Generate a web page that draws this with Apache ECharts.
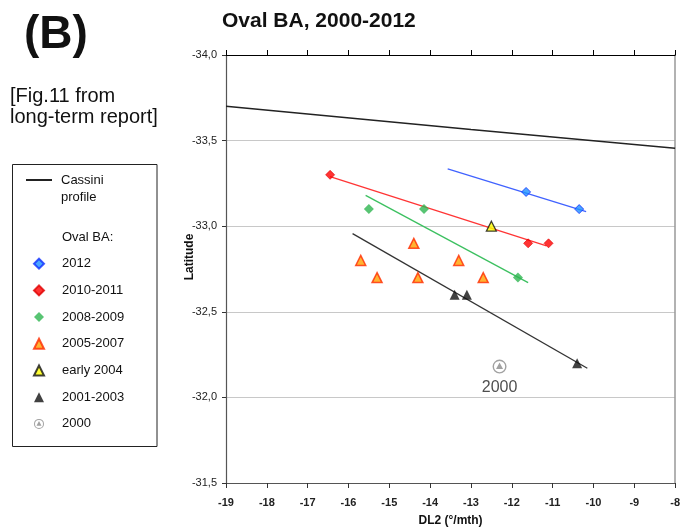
<!DOCTYPE html>
<html>
<head>
<meta charset="utf-8">
<script src="https://cdn.jsdelivr.net/npm/echarts@6/dist/echarts.min.js"></script>
<style>html,body{margin:0;padding:0;background:#fff}#c{width:683px;height:532px}</style>
</head>
<body>
<div id="c"></div>
<script>
// ---- data ----
const xTicks = [-19,-18,-17,-16,-15,-14,-13,-12,-11,-10,-9,-8];
const yTicks = [-34.0,-33.5,-33.0,-32.5,-32.0,-31.5];
const cassini = [[-19,-33.70],[-13,-33.565],[-8,-33.455]];
const p2012 = [[-11.65,-33.2],[-10.35,-33.1]];
const p2010 = [[-16.45,-33.3],[-11.6,-32.9],[-11.1,-32.9]];
const p2008 = [[-15.5,-33.1],[-14.15,-33.1],[-11.85,-32.7]];
const p2005 = [[-14.4,-32.9],[-15.7,-32.8],[-13.3,-32.8],[-15.3,-32.7],[-14.3,-32.7],[-12.7,-32.7]];
const p2004 = [[-12.5,-33.0]];
const p2001 = [[-13.4,-32.6],[-13.1,-32.6],[-10.4,-32.2]];
const p2000 = [[-12.3,-32.18]];
const fit2012 = [[-13.57,-33.335],[-10.18,-33.085]];
const fit2010 = [[-16.45,-33.29],[-11.15,-32.885]];
const fit2008 = [[-15.58,-33.18],[-11.6,-32.67]];
const fit2001 = [[-15.9,-32.957],[-10.15,-32.17]];

const FONT = '"Liberation Sans", Arial, sans-serif';
const ring = 'path://M0,-10A10,10,0,1,1,0,10A10,10,0,1,1,0,-10ZM0,-8A8,8,0,1,0,0,8A8,8,0,1,0,0,-8ZM0,-6L5,3.5L-5,3.5Z';

const chart = echarts.init(document.getElementById('c'), null, {renderer:'canvas'});
function fitLine(name, data, color){
  return {type:'line', name:name, data:data, symbol:'none', silent:true,
    lineStyle:{color:color, width:1.3}, z:2, legendHoverLink:false};
}
const option = {
  animation:false,
  backgroundColor:'#fff',
  title:{text:'Oval BA, 2000-2012', left:222, top:11, padding:0,
    textStyle:{fontFamily:FONT, fontSize:21, fontWeight:'bold', color:'#111'}},
  grid:{left:226, right:6, top:55, bottom:44},
  xAxis:[{type:'value', min:-19, max:-8, interval:1, position:'bottom',
    axisLine:{lineStyle:{color:'#555', width:1.2}},
    axisTick:{show:true, inside:false, length:5, lineStyle:{color:'#333'}},
    axisLabel:{fontFamily:FONT, fontSize:11, fontWeight:'bold', color:'#222', margin:14},
    splitLine:{show:false},
    name:'DL2 (°/mth)', nameLocation:'middle', nameGap:32,
    nameTextStyle:{fontFamily:FONT, fontSize:12, fontWeight:'bold', color:'#111'}},
   {type:'value', min:-19, max:-8, interval:1, position:'top',
    axisLine:{show:true, lineStyle:{color:'#000', width:1.2}},
    axisTick:{show:true, inside:false, length:5, lineStyle:{color:'#000'}},
    axisLabel:{show:false}, splitLine:{show:false}}],
  yAxis:[{type:'value', min:-34, max:-31.5, interval:0.5, inverse:true, position:'left',
    axisLine:{show:true, lineStyle:{color:'#555', width:1.2}},
    axisTick:{show:true, inside:false, length:4, lineStyle:{color:'#333'}},
    axisLabel:{fontFamily:FONT, fontSize:11, color:'#222', margin:9,
      formatter:v=>v.toFixed(1).replace('.', ',')},
    splitLine:{show:true, lineStyle:{color:'#c8c8c8', width:1}}},
   {type:'value', min:-34, max:-31.5, interval:0.5, inverse:true, position:'right',
    axisLine:{show:true, lineStyle:{color:'#999', width:1.5}},
    axisTick:{show:false}, axisLabel:{show:false}, splitLine:{show:false}}],
  legend:[
    {orient:'vertical', left:26, top:154.5, padding:0, itemWidth:26, itemHeight:2, selectedMode:false,
     data:[{name:'Cassini profile', icon:'rect', itemStyle:{color:'#222'}}],
     formatter:()=> '\nCassini\nprofile',
     textStyle:{fontFamily:FONT, fontSize:13, lineHeight:17, color:'#111', padding:[0,0,0,4]}},
    {orient:'vertical', left:33, top:229, padding:0, itemWidth:10, itemHeight:10, itemGap:10.7, selectedMode:false,
     data:[{name:'Oval BA:', itemStyle:{opacity:0}}, '2012','2010-2011','2008-2009','2005-2007','early 2004','2001-2003','2000'],
     textStyle:{fontFamily:FONT, fontSize:13, lineHeight:16, color:'#111', padding:[0,0,0,13]}}
  ],
  graphic:[
    {type:'text', left:24, top:12, style:{text:'(B)', font:'bold 46px '+FONT, fill:'#111'}},
    {type:'text', left:10, top:86, style:{text:'[Fig.11 from\nlong-term report]', font:'20px '+FONT, lineHeight:21, fill:'#111'}},
    {type:'rect', shape:{x:12.5, y:164.5, width:144.5, height:282}, style:{fill:'none', stroke:'#222', lineWidth:1}},
    {type:'text', x:190, y:257, rotation:Math.PI/2,
     style:{text:'Latitude', font:'bold 12px '+FONT, fill:'#111', align:'center', verticalAlign:'middle'}}
  ],
  series:[
    {type:'line', name:'Cassini profile', data:cassini, symbol:'none', lineStyle:{color:'#222', width:1.5}, z:2},
    fitLine('fit2012', fit2012, '#4062ff'),
    fitLine('fit2010', fit2010, '#ff3535'),
    fitLine('fit2008', fit2008, '#3cc060'),
    fitLine('fit2001', fit2001, '#333333'),
    {type:'scatter', name:'Oval BA:', data:[], itemStyle:{opacity:0}},
    {type:'scatter', name:'2012', data:p2012, symbol:'diamond', symbolSize:9, z:5,
     itemStyle:{color:'#1e90ff', borderColor:'#1030ff', borderWidth:1}},
    {type:'scatter', name:'2010-2011', data:p2010, symbol:'diamond', symbolSize:9, z:5,
     itemStyle:{color:'#ff0000', borderColor:'#e00000', borderWidth:0.8}},
    {type:'scatter', name:'2008-2009', data:p2008, symbol:'diamond', symbolSize:10, z:5,
     itemStyle:{color:'#2eb550'}},
    {type:'scatter', name:'2005-2007', data:p2005, symbol:'triangle', symbolSize:10, z:5,
     itemStyle:{color:'#ffa000', borderColor:'#ff2a00', borderWidth:1.5}},
    {type:'scatter', name:'early 2004', data:p2004, symbol:'triangle', symbolSize:10, z:5,
     itemStyle:{color:'#ffff00', borderColor:'#111', borderWidth:1.3}},
    {type:'scatter', name:'2001-2003', data:p2001, symbol:'triangle', symbolSize:10, z:5,
     itemStyle:{color:'#111'}},
    {type:'scatter', name:'2000', data:p2000, symbol:ring, symbolSize:14, symbolKeepAspect:true, z:5,
     itemStyle:{color:'#8a8a8a'},
     label:{show:true, position:'bottom', distance:6, formatter:'2000',
       fontFamily:FONT, fontSize:16, color:'#222'}}
  ]
};
chart.setOption(option);
</script>
</body>
</html>
